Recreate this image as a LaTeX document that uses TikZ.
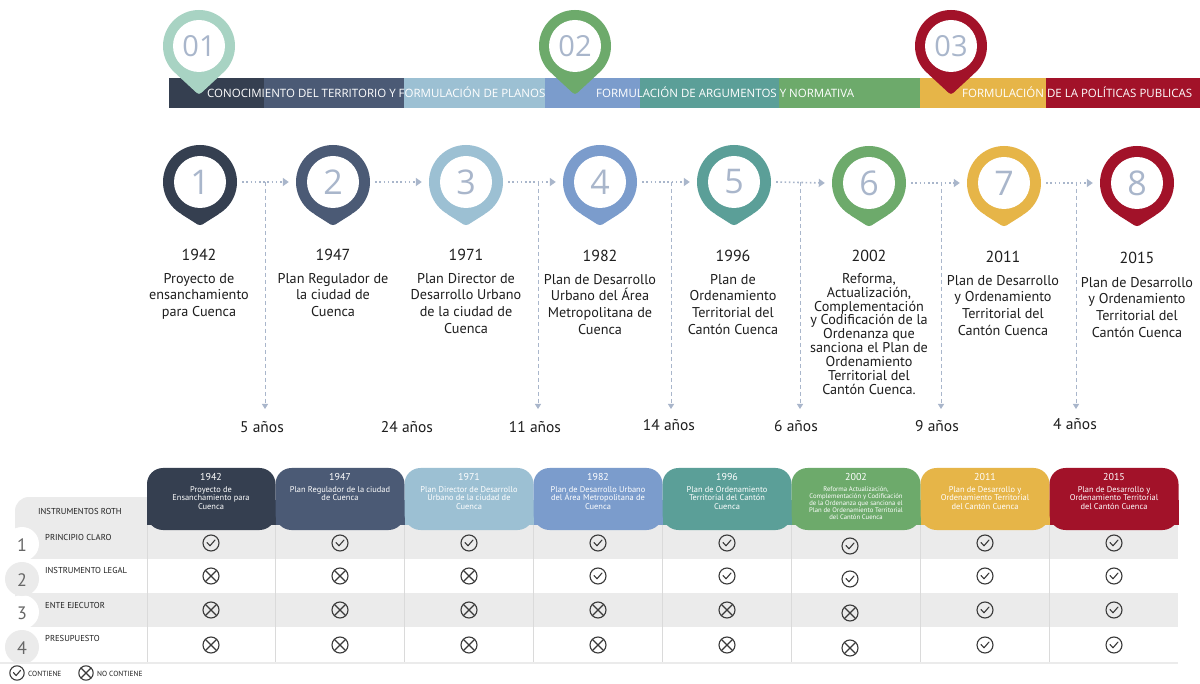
\documentclass[tikz,border=0pt]{standalone}
\usepackage{fontspec}
\setmainfont{PT Sans}
\newfontfamily\bannerfont{Open Sans}
\usetikzlibrary{calc,arrows.meta}
\definecolor{c1}{HTML}{353F50}
\definecolor{c2}{HTML}{4B5A75}
\definecolor{c3}{HTML}{9CC0D3}
\definecolor{c4}{HTML}{7B9CCC}
\definecolor{c5}{HTML}{5B9F98}
\definecolor{c6}{HTML}{6DAA6B}
\definecolor{c7}{HTML}{E6B548}
\definecolor{c8}{HTML}{A21229}
\definecolor{mint}{HTML}{A8D3C3}
\definecolor{numgray}{HTML}{A9B6CB}
\definecolor{txt}{HTML}{1E1E1E}
\definecolor{band}{HTML}{EBEBEB}
\definecolor{sep}{HTML}{DADADA}
\definecolor{icon}{HTML}{3A3A3A}
\newcommand{\rowpin}[2]{%
  \fill[#2] (#1) circle (37pt);
  \fill[#2, rounded corners=3pt] ($(#1)+(-20.5,31)$) -- ($(#1)+(0,44)$) -- ($(#1)+(20.5,31)$) -- cycle;
  \fill[white] (#1) circle (26pt);}
\newcommand{\toppin}[2]{%
  \fill[#2] (#1) circle (36pt);
  \fill[#2, rounded corners=3pt] ($(#1)+(-23.8,27)$) -- ($(#1)+(0,49)$) -- ($(#1)+(23.8,27)$) -- cycle;
  \fill[white] (#1) circle (26pt);}
\newcommand{\hdrtab}[3]{% x1, x2, colour
  \fill[#3, rounded corners=16pt] (#1,468) rectangle (#2,530);
  \fill[#3] (#1,500) rectangle (#2,525);}
\begin{document}
\begin{tikzpicture}[x=1pt,y=-1pt,
  pinnum/.style={circle, minimum size=76pt, inner sep=0pt, text=numgray, font=\bannerfont\fontsize{34}{34}\selectfont},
  topnum/.style={circle, minimum size=72pt, inner sep=0pt, text=numgray, font=\bannerfont\fontsize{29}{29}\selectfont},
  bannertxt/.style={anchor=west, inner sep=0pt, text=white, font=\bannerfont\fontsize{11.5}{13}\selectfont},
  dotarr/.style={numgray, line width=1.6pt, dash pattern=on 1.6pt off 2.6pt, -{Triangle[length=6pt,width=8pt]}},
  dasharr/.style={numgray, line width=0.9pt, dash pattern=on 4pt off 3pt, -{Triangle[length=5pt,width=6pt]}},
  yearlbl/.style={inner sep=0pt, text=txt, font=\fontsize{16}{18}\selectfont},
  desclbl/.style={anchor=north, inner sep=0pt, text=txt, align=center, font=\fontsize{14.2}{16.6}\selectfont},
  aniolbl/.style={inner sep=0pt, text=txt, font=\fontsize{15.5}{17}\selectfont},
  hyear/.style={inner sep=0pt, text=white, font=\fontsize{10}{11}\selectfont},
  hdesc/.style={anchor=north, inner sep=0pt, text=white, align=center, font=\fontsize{8.4}{8.6}\selectfont},
  hdescs/.style={anchor=north, inner sep=0pt, text=white, align=center, font=\fontsize{6.7}{7}\selectfont},
  rowlbl/.style={anchor=west, inner sep=0pt, text=txt, font=\fontsize{8.6}{9}\selectfont},
  rownum/.style={inner sep=0pt, text=black!60, font=\fontsize{18}{18}\selectfont},
  legtxt/.style={anchor=west, inner sep=0pt, text=txt, font=\fontsize{7.4}{8}\selectfont},
  iconline/.style={icon, line width=1.1pt, line cap=round, line join=round},
  chk/.pic={\draw[iconline] (0,0) circle (8pt); \draw[iconline] (-4,-0.5) -- (-1,2.8) -- (4,-3);},
  crs/.pic={\draw[iconline] (0,0) circle (8pt); \draw[iconline] (-5.6,-5.6) -- (5.6,5.6) (-5.6,5.6) -- (5.6,-5.6);}
]
\useasboundingbox (0,0) rectangle (1200,684);
\fill[white] (0,0) rectangle (1200,684);

% ---------- banner ----------
\fill[c1] (169,78) rectangle (264,108);
\fill[c2] (264,78) rectangle (404,108);
\fill[c3] (404,78) rectangle (545,108);
\fill[c4] (545,78) rectangle (640,108);
\fill[c5] (640,78) rectangle (779,108);
\fill[c6] (779,78) rectangle (920,108);
\fill[c7] (920,78) rectangle (1046,108);
\fill[c8] (1046,78) rectangle (1200,108);
\node[bannertxt] (b1) at (207,92) {CONOCIMIENTO DEL TERRITORIO Y FORMULACIÓN DE PLANOS};
\node[bannertxt] (b2) at (596,92) {FORMULACIÓN DE ARGUMENTOS Y NORMATIVA};
\node[bannertxt] (b3) at (962,92) {FORMULACIÓN DE LA POLÍTICAS PUBLICAS};

\coordinate (tc1) at (199,46);
\coordinate (tc2) at (575,46);
\coordinate (tc3) at (951,46);
\toppin{tc1}{mint}
\toppin{tc2}{c6}
\toppin{tc3}{c8}
\node[topnum] (t1) at (tc1) {01};
\node[topnum] (t2) at (tc2) {02};
\node[topnum] (t3) at (tc3) {03};

% ---------- timeline pins ----------
\coordinate (pc1) at (200,182);
\coordinate (pc2) at (333,182);
\coordinate (pc3) at (466,182);
\coordinate (pc4) at (600,182);
\coordinate (pc5) at (734,182);
\coordinate (pc6) at (869,183);
\coordinate (pc7) at (1004,183);
\coordinate (pc8) at (1137,183);
\rowpin{pc1}{c1}
\rowpin{pc2}{c2}
\rowpin{pc3}{c3}
\rowpin{pc4}{c4}
\rowpin{pc5}{c5}
\rowpin{pc6}{c6}
\rowpin{pc7}{c7}
\rowpin{pc8}{c8}
\foreach \i in {1,...,8} {\node[pinnum] (p\i) at (pc\i) {\i};}
\foreach \i/\j in {1/2,2/3,3/4,4/5,5/6,6/7,7/8} {
  \draw[dotarr] ([xshift=4pt]p\i.east) -- ([xshift=-6pt]p\j.west);}

% vertical dashed connectors
\foreach \n/\x in {1/265,3/538,4/671,5/800,6/941,7/1076} {
  \coordinate (v\n) at (\x,182);
  \coordinate (e\n) at (\x,409);
  \draw[dasharr] (v\n) -- (e\n);}

\node[aniolbl] (a1) at (262,427) {5 años};
\node[aniolbl] (a2) at (407,427) {24 años};
\node[aniolbl] (a3) at (535,427) {11 años};
\node[aniolbl] (a4) at (669,425) {14 años};
\node[aniolbl] (a5) at (796,426) {6 años};
\node[aniolbl] (a6) at (937,426) {9 años};
\node[aniolbl] (a7) at (1075,424) {4 años};

% years & descriptions
\node[yearlbl] (y1) at (199,255) {1942};
\node[yearlbl] (y2) at (333,255) {1947};
\node[yearlbl] (y3) at (466,255) {1971};
\node[yearlbl] (y4) at (600,256) {1982};
\node[yearlbl] (y5) at (733,256) {1996};
\node[yearlbl] (y6) at (869,256) {2002};
\node[yearlbl] (y7) at (1003,257) {2011};
\node[yearlbl] (y8) at (1137,258) {2015};
\node[desclbl] (d1) at (199,273) {Proyecto de\\ensanchamiento\\para Cuenca};
\node[desclbl] (d2) at (333,273) {Plan Regulador de\\la ciudad de\\Cuenca};
\node[desclbl] (d3) at (466,273) {Plan Director de\\Desarrollo Urbano\\de la ciudad de\\Cuenca};
\node[desclbl] (d4) at (600,274) {Plan de Desarrollo\\Urbano del Área\\Metropolitana de\\Cuenca};
\node[desclbl] (d5) at (733,274) {Plan de\\Ordenamiento\\Territorial del\\Cantón Cuenca};
\node[desclbl, font=\fontsize{14.2}{13.9}\selectfont] (d6) at (869,273) {Reforma,\\Actualización,\\Complementación\\y Codificación de la\\Ordenanza que\\sanciona el Plan de\\Ordenamiento\\Territorial del\\Cantón Cuenca.};
\node[desclbl] (d7) at (1003,275) {Plan de Desarrollo\\y Ordenamiento\\Territorial del\\Cantón Cuenca};
\node[desclbl] (d8) at (1137,277) {Plan de Desarrollo\\y Ordenamiento\\Territorial del\\Cantón Cuenca};

% ---------- table ----------
\fill[band, rounded corners=14pt] (15,497) rectangle (160,540);
\fill[band] (15,525) rectangle (1178,559);
\fill[band] (15,593) rectangle (1178,627);
\fill[white] (22,544) circle (17pt);
\fill[white] (22,612) circle (17pt);
\fill[band] (22,579) circle (17pt);
\fill[band] (22,647) circle (17pt);
\draw[band, line width=2pt] (0,663) -- (1178,663);

\hdrtab{147}{275.5}{c1}
\hdrtab{275.5}{404.5}{c2}
\hdrtab{404.5}{533.5}{c3}
\hdrtab{533.5}{662.5}{c4}
\hdrtab{662.5}{791.5}{c5}
\hdrtab{791.5}{920.5}{c6}
\hdrtab{920.5}{1049.5}{c7}
\hdrtab{1049.5}{1178.5}{c8}
\foreach \x in {147,275.5,404.5,533.5,662.5,791.5,920.5,1049.5} {
  \draw[sep, line width=0.8pt] (\x,525) -- (\x,662);}

\node[rowlbl] (rh) at (38,511) {INSTRUMENTOS ROTH};
\node[rowlbl] (r1) at (45,537) {PRINCIPIO CLARO};
\node[rowlbl] (r2) at (45,570) {INSTRUMENTO LEGAL};
\node[rowlbl] (r3) at (45,605) {ENTE EJECUTOR};
\node[rowlbl] (r4) at (45,638) {PRESUPUESTO};
\node[rownum] (n1) at (22,545) {1};
\node[rownum] (n2) at (22,580) {2};
\node[rownum] (n3) at (22,613) {3};
\node[rownum] (n4) at (22,648) {4};

\node[hyear] (h1) at (211,477) {1942};
\node[hyear] (h2) at (340,477) {1947};
\node[hyear] (h3) at (469,477) {1971};
\node[hyear] (h4) at (598,477) {1982};
\node[hyear] (h5) at (727,477) {1996};
\node[hyear] (h6) at (856,477) {2002};
\node[hyear] (h7) at (985,477) {2011};
\node[hyear] (h8) at (1114,477) {2015};
\node[hdesc] (hd1) at (211,486) {Proyecto de\\Ensanchamiento para\\Cuenca};
\node[hdesc] (hd2) at (340,486) {Plan Regulador de la ciudad\\de Cuenca};
\node[hdesc] (hd3) at (469,486) {Plan Director de Desarrollo\\Urbano de la ciudad de\\Cuenca};
\node[hdesc] (hd4) at (598,486) {Plan de Desarrollo Urbano\\del Área Metropolitana de\\Cuenca};
\node[hdesc] (hd5) at (727,486) {Plan de Ordenamiento\\Territorial del Cantón\\Cuenca};
\node[hdescs] (hd6) at (856,486) {Reforma Actualización,\\Complementación y Codificación\\de la Ordenanza que sanciona el\\Plan de Ordenamiento Territorial\\del Cantón Cuenca};
\node[hdesc] (hd7) at (985,486) {Plan de Desarrollo y\\Ordenamiento Territorial\\del Cantón Cuenca};
\node[hdesc] (hd8) at (1114,486) {Plan de Desarrollo y\\Ordenamiento Territorial\\del Cantón Cuenca};

% icons: row 1
\foreach \x in {211,340,469,598,727,985,1114} {\pic at (\x,543) {chk};}
\pic at (850,546) {chk};
% row 2
\foreach \x in {211,340,469} {\pic at (\x,576) {crs};}
\foreach \x in {598,727,985,1114} {\pic at (\x,576) {chk};}
\pic at (850,579) {chk};
% row 3
\foreach \x in {211,340,469,598,727} {\pic at (\x,610) {crs};}
\pic at (850,613) {crs};
\foreach \x in {985,1114} {\pic at (\x,610) {chk};}
% row 4
\foreach \x in {211,340,469,598,727} {\pic at (\x,645) {crs};}
\pic at (850,648) {crs};
\foreach \x in {985,1114} {\pic at (\x,645) {chk};}

% legend
\pic[scale=0.9] at (17,673) {chk};
\node[legtxt] (l1) at (28,674) {CONTIENE};
\pic[scale=0.9] at (86,673) {crs};
\node[legtxt] (l2) at (97,674) {NO CONTIENE};
\end{tikzpicture}
\end{document}
